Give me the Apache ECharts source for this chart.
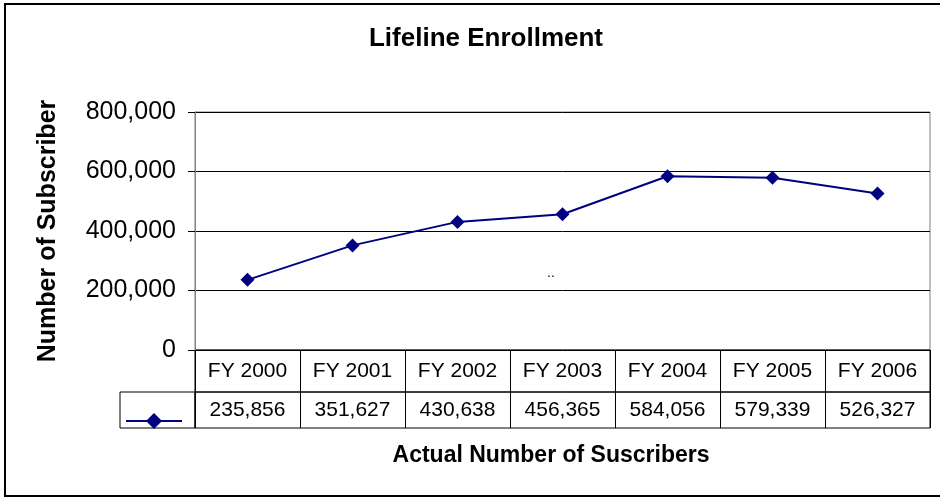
<!DOCTYPE html>
<html>
<head>
<meta charset="utf-8">
<script src="https://cdn.jsdelivr.net/npm/echarts@6/dist/echarts.min.js"></script>
<style>
html,body{margin:0;padding:0;background:#fff;}
#chart{width:940px;height:498px;}
</style>
</head>
<body>
<div id="chart"></div>
<script>
var categories = ['FY 2000','FY 2001','FY 2002','FY 2003','FY 2004','FY 2005','FY 2006'];
var subscribers = [235856, 351627, 430638, 456365, 584056, 579339, 526327];
var yTicks = [0, 200000, 400000, 600000, 800000];
var seriesName = 'Actual Number of Suscribers';

var FONT = '"Liberation Sans", Arial, sans-serif';
var chart = echarts.init(document.getElementById('chart'), null, {renderer: 'canvas'});

function fmt(v){ return Number(v).toLocaleString('en-US'); }

var option = {
  animation: false,
  backgroundColor: '#fff',
  title: [
    {text: 'Lifeline Enrollment', left: 481, top: 21, textAlign: 'center',
     textStyle: {fontFamily: FONT, fontWeight: 'bold', fontSize: 26, color: '#000'}},
    {text: seriesName, left: 546, top: 439, textAlign: 'center',
     textStyle: {fontFamily: FONT, fontWeight: 'bold', fontSize: 23, color: '#000'}}
  ],
  legend: {
    data: [seriesName],
    left: 120, top: 406,
    itemWidth: 56, itemHeight: 20,
    formatter: function(){ return ''; },
    selectedMode: false
  },
  grid: [
    {left: 195, top: 112, width: 735, height: 238, show: true, borderColor: '#808080', borderWidth: 1, containLabel: false},
    {left: 195, top: 350, width: 735, height: 42, show: true, borderColor: '#000', borderWidth: 1, containLabel: false},
    {left: 195, top: 392, width: 735, height: 36, show: true, borderColor: '#000', borderWidth: 1, containLabel: false}
  ],
  xAxis: [
    {gridIndex: 0, type: 'category', data: categories, boundaryGap: true,
     axisLine: {show: false}, axisTick: {show: false}, splitLine: {show: false},
     axisLabel: {show: true, interval: 0, margin: 11, fontFamily: FONT, fontSize: 21, color: '#000'}},
    {gridIndex: 1, type: 'category', data: categories, boundaryGap: true,
     axisLine: {show: false}, axisTick: {show: false}, axisLabel: {show: false},
     splitLine: {show: true, interval: 0, lineStyle: {color: '#000', width: 1}}},
    {gridIndex: 2, type: 'category', data: categories, boundaryGap: true,
     axisLine: {show: false}, axisTick: {show: false}, axisLabel: {show: false},
     splitLine: {show: true, interval: 0, lineStyle: {color: '#000', width: 1}}}
  ],
  yAxis: [
    {gridIndex: 0, type: 'value', min: 0, max: 800000, interval: 200000,
     name: 'Number of Subscriber', nameLocation: 'middle', nameRotate: 90, nameGap: 134,
     nameTextStyle: {fontFamily: FONT, fontWeight: 'bold', fontSize: 25, color: '#000'},
     axisLine: {show: true, lineStyle: {color: '#808080', width: 1}},
     axisTick: {show: true, inside: false, length: 7, lineStyle: {color: '#000'}},
     splitLine: {show: true, lineStyle: {color: '#000', width: 1}},
     axisLabel: {margin: 19, fontFamily: FONT, fontSize: 25, color: '#000',
       formatter: function(v){ return fmt(v); }}},
    {gridIndex: 1, type: 'category', data: ['c'], show: false},
    {gridIndex: 2, type: 'category', data: ['v'], show: false}
  ],
  graphic: [
    {type: 'polyline', shape: {points: [[1000, 4], [5, 4], [5, 496], [1000, 496]]},
     style: {fill: 'none', stroke: '#000', lineWidth: 2}, silent: true, z: -1},
    {type: 'rect', shape: {x: 120, y: 392, width: 75, height: 36},
     style: {fill: 'none', stroke: '#000', lineWidth: 1}, silent: true},
    {type: 'text', left: 547, top: 266,
     style: {text: '..', fontFamily: FONT, fontSize: 14, fill: '#000'}, silent: true}
  ],
  series: [
    {name: seriesName, type: 'line', xAxisIndex: 0, yAxisIndex: 0,
     data: subscribers,
     symbol: 'diamond', symbolSize: 14, showAllSymbol: true,
     lineStyle: {color: '#000080', width: 2},
     itemStyle: {color: '#000080'}},
    {name: 'values', type: 'scatter', xAxisIndex: 2, yAxisIndex: 2,
     data: subscribers.map(function(v, i){ return [i, 0, v]; }),
     symbolSize: 2, itemStyle: {color: 'rgba(0,0,0,0)', opacity: 1},
     label: {show: true, position: 'inside', fontFamily: FONT, fontSize: 21, color: '#000', opacity: 1,
       textBorderWidth: 0,
       formatter: function(p){ return fmt(p.data[2]); }}}
  ]
};
chart.setOption(option);
</script>
</body>
</html>
